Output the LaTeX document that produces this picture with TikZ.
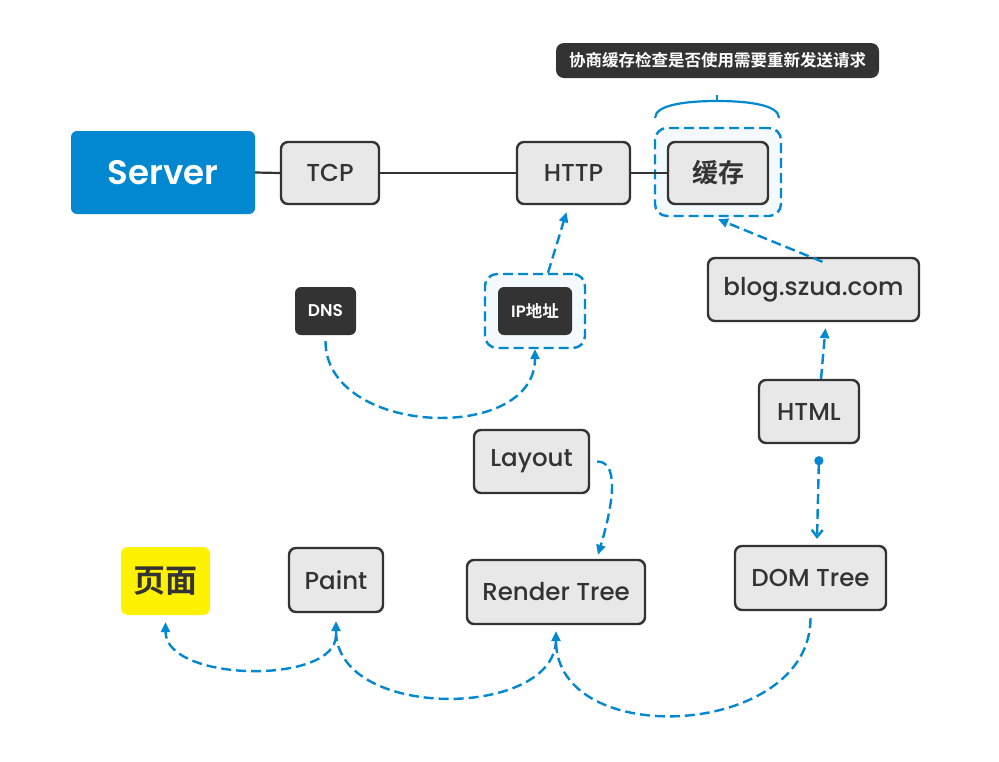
\documentclass[tikz,border=0pt]{standalone}
\usepackage{fontspec}
\setmainfont{Poppins}[UprightFont={* Medium},BoldFont={* SemiBold}]
\newfontfamily\cjk{Noto Sans CJK SC}[BoldFont={Noto Sans CJK SC Bold}]
\usetikzlibrary{arrows.meta,positioning}
\definecolor{linkblue}{HTML}{0288D1}
\definecolor{darkbox}{HTML}{333333}
\definecolor{lightbox}{HTML}{E8E8E8}
\definecolor{focusfill}{HTML}{F4F9FD}

\begin{document}
\begin{tikzpicture}[x=1pt,y=-1pt,
  topic/.style={draw=darkbox,line width=2.4pt,fill=lightbox,rounded corners=7pt,
    text=darkbox,font=\fontsize{24.5}{28}\selectfont,inner sep=0pt},
  tag/.style={fill=darkbox,rounded corners=6pt,text=white,
    font=\bfseries\fontsize{16.5}{18}\selectfont,inner sep=0pt},
  focus/.style={draw=linkblue,line width=2.4pt,dash pattern=on 10pt off 5pt,
    fill=focusfill,rounded corners=12pt,inner sep=0pt},
  link/.style={linkblue,line width=2.4pt,dash pattern=on 10pt off 5pt,
    -{Triangle[length=10pt,width=9pt]}},
  wire/.style={darkbox,line width=2.2pt}]
  \useasboundingbox[fill=white] (0,0) rectangle (999,761);

  % dashed focus frames
  \node[focus,minimum width=126pt,minimum height=88pt] (cachebox) at (718,172) {};
  \node[focus,minimum width=100pt,minimum height=74pt] (ipbox) at (535,311) {};

  % top row
  \node[fill=linkblue,rounded corners=6pt,text=white,inner sep=0pt,
    font=\bfseries\fontsize{34}{40}\selectfont,
    minimum width=184pt,minimum height=83pt] (server) at (163,172.5) {Server};
  \node[topic,minimum width=98pt,minimum height=62pt] (tcp) at (330,173) {TCP};
  \node[topic,minimum width=113pt,minimum height=62pt] (http) at (573.5,173) {HTTP};
  \node[topic,minimum width=100pt,minimum height=62pt,
    font=\cjk\bfseries\fontsize{26}{30}\selectfont] (cache) at (718,173) {缓存};
  \draw[wire] (server.east) -- (tcp.west);
  \draw[wire] (tcp.east) -- (http.west);
  \draw[wire] (http.east) -- (cache.west);

  % note above the cache
  \node[tag,rounded corners=8pt,minimum width=323pt,minimum height=35pt,
    font=\cjk\bfseries\fontsize{16.5}{20}\selectfont] (note) at (717.5,60.5)
    {协商缓存检查是否使用需要重新发送请求};
  \coordinate (bracetip) at (717,95);
  \draw[linkblue,line width=2.2pt] (655,118) .. controls (655,104) and (690,101) .. (717,101)
    .. controls (744,101) and (779,104) .. (779,118);
  \draw[linkblue,line width=2.2pt] (bracetip) -- ++(0,6);

  % lookup
  \node[tag,font=\bfseries\fontsize{17}{18}\selectfont,
    minimum width=61pt,minimum height=48pt] (dns) at (325.5,311) {DNS};
  \node[tag,minimum width=74pt,minimum height=48pt] (ip) at (535,311) {IP{\cjk 地址}};
  \draw[link] ([yshift=-6pt]dns.south) .. controls +(0,95) and +(0,95) .. (ipbox.south);
  \draw[link] ([xshift=13pt]ipbox.north) -- ([xshift=-7pt,yshift=-7pt]http.south);

  % page request
  \node[topic,minimum width=211pt,minimum height=63pt] (blog) at (813.5,289.5) {blog.szua.com};
  \node[topic,minimum width=100pt,minimum height=63pt] (html) at (809,411.5) {HTML};
  \node[topic,minimum width=151pt,minimum height=64pt] (dom) at (810.5,578) {DOM Tree};
  \draw[link] ([xshift=9pt,yshift=-5pt]blog.north) -- ([yshift=-2pt]cachebox.south);
  \draw[link] ([xshift=12pt]html.north) -- ([xshift=12pt,yshift=-6pt]blog.south);
  \draw[linkblue,line width=2.4pt,dash pattern=on 10pt off 5pt,
    {Circle[length=9pt]}-{Straight Barb[length=7pt,width=11pt]}]
    ([xshift=10pt,yshift=-12pt]html.south) -- ([xshift=6.5pt,yshift=6pt]dom.north);

  % rendering
  \node[topic,minimum width=115pt,minimum height=63pt] (layout) at (531.5,461.5) {Layout};
  \node[topic,minimum width=178pt,minimum height=64pt] (render) at (556,592) {Render Tree};
  \node[topic,minimum width=94pt,minimum height=64pt] (paint) at (336,580) {Paint};
  \node[fill=yellow,rounded corners=7pt,inner sep=0pt,text=darkbox,
    font=\cjk\bfseries\fontsize{32}{36}\selectfont,
    minimum width=89pt,minimum height=68pt] (page) at (165.5,581) {页面};
  \draw[link] ([xshift=7pt]layout.east) .. controls +(25,0) and +(12,-40) .. ([xshift=42pt,yshift=4pt]render.north);
  \draw[link] ([yshift=-7pt]dom.south) .. controls +(0,120) and +(0,120) .. ([yshift=-6pt]render.south);
  \draw[link] ([yshift=-14pt]render.south) .. controls +(0,80) and +(0,100) .. ([yshift=-8pt]paint.south);
  \draw[link] ([yshift=-22pt]paint.south) .. controls +(0,50) and +(0,60) .. ([yshift=-7pt]page.south);
\end{tikzpicture}
\end{document}
